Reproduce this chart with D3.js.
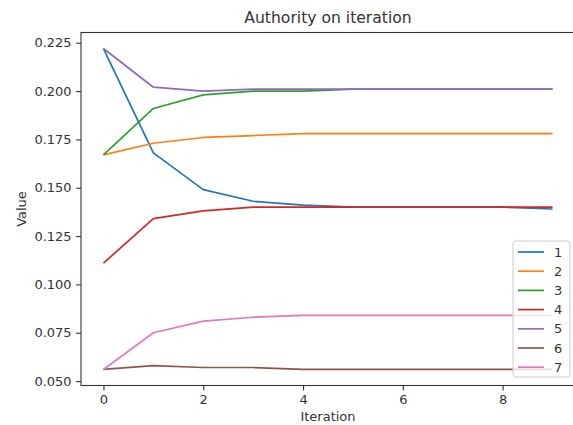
<!DOCTYPE HTML>
<html>
    <head>
        <title>Authority on iteration</title>
        <script src="https://d3js.org/d3.v7.min.js"></script>
        <style>
            body{ margin:0; background:#fff; }
            .chart text{
                font-family: "DejaVu Sans", sans-serif;
                fill: #333;
            }
            .chart .domain, .chart .tick line{ stroke:#333; stroke-width:1.1; }
        </style>
    </head>
    <body>
        <svg class="chart"></svg>
        <script>
            // authority value of each node, per iteration
            let iterations = [0,1,2,3,4,5,6,7,8,9];
            let names = ["1","2","3","4","5","6","7"];
            let node1 = [0.222,0.168,0.149,0.143,0.141,0.140,0.140,0.140,0.140,0.139];
            let node2 = [0.167,0.173,0.176,0.177,0.178,0.178,0.178,0.178,0.178,0.178];
            let node3 = [0.167,0.191,0.198,0.200,0.200,0.201,0.201,0.201,0.201,0.201];
            let node4 = [0.111,0.134,0.138,0.140,0.140,0.140,0.140,0.140,0.140,0.140];
            let node5 = [0.222,0.202,0.200,0.201,0.201,0.201,0.201,0.201,0.201,0.201];
            let node6 = [0.056,0.058,0.057,0.057,0.056,0.056,0.056,0.056,0.056,0.056];
            let node7 = [0.056,0.075,0.081,0.083,0.084,0.084,0.084,0.084,0.084,0.084];
            let xTicks = [0,2,4,6,8];
            let yTicks = [0.050,0.075,0.100,0.125,0.150,0.175,0.200,0.225];

            let series = [node1,node2,node3,node4,node5,node6,node7];
            let colors = d3.schemeCategory10;

            let width=573,height=425;
            let mLeft=81,mRight=575,mTop=32.5,mBottom=385.5;

            // matplotlib style 5% margins
            let xPad=(d3.max(iterations)-d3.min(iterations))*0.05;
            let allVals=series.flat();
            let yMin=d3.min(allVals),yMax=d3.max(allVals),yPad=(yMax-yMin)*0.05;

            let x=d3.scaleLinear().domain([d3.min(iterations)-xPad,d3.max(iterations)+xPad]).range([mLeft,mRight]);
            let y=d3.scaleLinear().domain([yMin-yPad,yMax+yPad]).range([mBottom,mTop]);

            let chart=d3.select('.chart').attr('width',width).attr('height',height);

            // plot frame
            chart.append('rect')
                .attr('x',mLeft).attr('y',mTop)
                .attr('width',mRight-mLeft).attr('height',mBottom-mTop)
                .attr('fill','none').attr('stroke','#333').attr('stroke-width',1.1);

            chart.append('g')
                .attr('transform','translate(0,'+mBottom+')')
                .call(d3.axisBottom(x).tickValues(xTicks).tickSize(4.9).tickPadding(4.5).tickFormat(d3.format('d')))
                .call(g=>g.selectAll('text').attr('font-size',13));

            chart.append('g')
                .attr('transform','translate('+mLeft+',0)')
                .call(d3.axisLeft(y).tickValues(yTicks).tickSize(4.9).tickPadding(4.5).tickFormat(d3.format('.3f')))
                .call(g=>g.selectAll('text').attr('font-size',13));

            chart.selectAll('.domain').remove();

            let line=d3.line().x((d,i)=>x(iterations[i])).y(d=>y(d));

            chart.selectAll('path.series')
                .data(series)
                .enter()
                .append('path')
                .attr('class','series')
                .attr('d',line)
                .attr('fill','none')
                .attr('stroke',(d,i)=>colors[i])
                .attr('stroke-width',1.7)
                .attr('stroke-linejoin','round');

            // titles
            chart.append('text')
                .attr('x',(mLeft+mRight)/2).attr('y',23)
                .attr('text-anchor','middle').attr('font-size',15.6)
                .text('Authority on iteration');
            chart.append('text')
                .attr('x',(mLeft+mRight)/2).attr('y',421)
                .attr('text-anchor','middle').attr('font-size',13)
                .text('Iteration');
            chart.append('text')
                .attr('transform','translate(26,'+(mTop+mBottom)/2+') rotate(-90)')
                .attr('text-anchor','middle').attr('font-size',13)
                .text('Value');

            // legend
            let lg=chart.append('g').attr('transform','translate(513,241)');
            lg.append('rect')
                .attr('width',57).attr('height',136).attr('rx',3)
                .attr('fill','#fff').attr('fill-opacity',0.8)
                .attr('stroke','#ccc').attr('stroke-width',1);
            let item=lg.selectAll('g.item')
                .data(names)
                .enter()
                .append('g')
                .attr('class','item')
                .attr('transform',(d,i)=>'translate(0,'+(11+i*19.2)+')');
            item.append('line')
                .attr('x1',5).attr('x2',31)
                .attr('stroke',(d,i)=>colors[i]).attr('stroke-width',1.7);
            item.append('text')
                .attr('x',41).attr('dy','0.36em').attr('font-size',13)
                .text(d=>d);
        </script>
    </body>
</html>
